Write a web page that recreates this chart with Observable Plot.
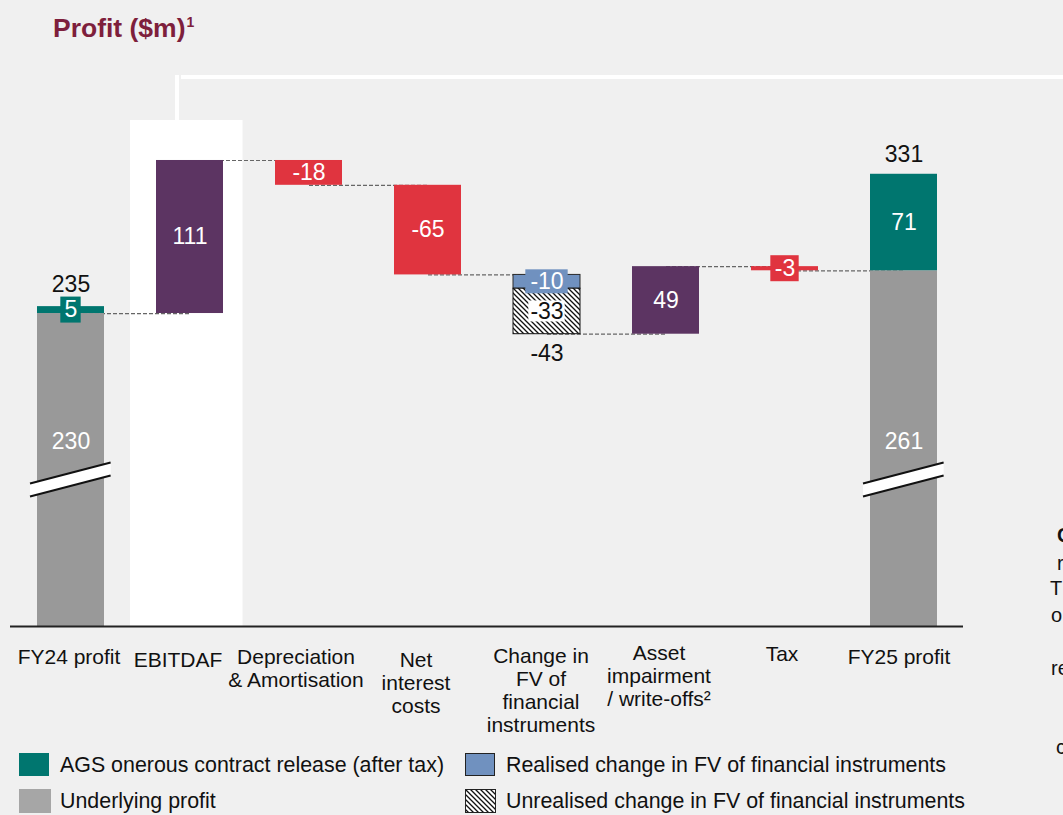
<!DOCTYPE html>
<html>
<head>
<meta charset="utf-8">
<script src="https://cdn.jsdelivr.net/npm/d3@7"></script>
<script src="https://cdn.jsdelivr.net/npm/@observablehq/plot@0.6"></script>
<style>
html, body { margin: 0; padding: 0; background: #f0f0f0; overflow: hidden; }
body { width: 1063px; height: 815px; position: relative; font-family: "Liberation Sans", Arial, sans-serif; color: #111; }
#title { position: absolute; left: 53px; top: 16px; font-size: 26.5px; line-height: 25px; font-weight: bold; color: #7e1f3c; white-space: nowrap; }
#title .sup { font-size: 14px; line-height: 14px; vertical-align: top; position: relative; top: -1px; margin-left: 1px; }
#chart { position: absolute; left: 0; top: 60px; }
#legend { position: absolute; left: 0; top: 745px; width: 1063px; height: 70px; }
.sw { position: absolute; box-sizing: border-box; }
.lt { position: absolute; font-size: 21.4px; line-height: 23px; white-space: nowrap; color: #111; }
.edge { position: absolute; font-size: 20px; line-height: 22px; color: #111; white-space: nowrap; }
</style>
</head>
<body>
<div id="title">Profit ($m)<span class="sup">1</span></div>
<div id="chart"></div>
<div id="legend"></div>
<div class="edge" style="left:1057px;top:524px;font-weight:bold;">C</div>
<div class="edge" style="left:1057px;top:552px;">r</div>
<div class="edge" style="left:1050px;top:577px;">T</div>
<div class="edge" style="left:1051px;top:604px;">o</div>
<div class="edge" style="left:1051px;top:657px;">re</div>
<div class="edge" style="left:1056px;top:736px;">c</div>
<script>
// ---------------- data ----------------
const categories = [
  "FY24 profit",
  "EBITDAF",
  "Depreciation\n& Amortisation",
  "Net\ninterest\ncosts",
  "Change in\nFV of\nfinancial\ninstruments",
  "Asset\nimpairment\n/ write-offs²",
  "Tax",
  "FY25 profit"
];
const stepValues = [111, -18, -65, -43, 49, -3];   // EBITDAF .. Tax
const underlying = [230, 261];                       // FY24, FY25 underlying profit
const agsRelease = [5, 71];                          // AGS onerous contract release
const totals = [235, 331];                           // FY24, FY25 reported profit
const fvRealised = -10;
const fvUnrealised = -33;
const legendLabels = [
  "AGS onerous contract release (after tax)",
  "Underlying profit",
  "Realised change in FV of financial instruments",
  "Unrealised change in FV of financial instruments"
];

// ---------------- style ----------------
const C = {
  teal: "#00766f", gray: "#999999", purple: "#5c3462", red: "#e0343f",
  blue: "#7091bf", hatch: "url(#hatchPat)", dash: "#666666"
};
const W = 1063, H = 685;
const mTop = 60, mBottom = 119, mLeft = 10, mRight = 100;
const padInner = 0.44, padOuter = 0.224;
const step = (W - mLeft - mRight) / (categories.length - padInner + 2 * padOuter);
const bw = step * (1 - padInner);
// per-label nudges of the category text boxes (pixels), as in the slide
const catDx = [-2, -12, -13, -12, -6, -7, -3, -5];
const catDy = [21, 24, 21, 24, 20, 17, 18, 21];

// ---------------- waterfall build ----------------
const bars = [];
const labels = [];
const boxes = [];
const links = [];

// FY24
bars.push({cat: categories[0], y1: 0, y2: underlying[0], fill: C.gray, stroke: "none"});
bars.push({cat: categories[0], y1: underlying[0], y2: totals[0], fill: C.teal, stroke: "none"});
boxes.push({cat: categories[0], mid: (underlying[0] + totals[0]) / 2, w: 20, h: 26, fill: C.teal});
labels.push({cat: categories[0], y: (underlying[0] + totals[0]) / 2, text: String(agsRelease[0]), fill: "white", dy: 0});
labels.push({cat: categories[0], y: totals[0], text: String(totals[0]), fill: "#111", dy: -22});

let level = underlying[0];
links.push({a: categories[0], b: categories[1], y: level});
stepValues.forEach((v, i) => {
  const cat = categories[i + 1];
  const start = level, end = level + v;
  if (i === 3) {
    const mid = start + fvRealised;
    bars.push({cat, y1: start, y2: mid, fill: C.blue, stroke: "#2a2a2a"});
    bars.push({cat, y1: mid, y2: end, fill: C.hatch, stroke: "#111"});
    boxes.push({cat, mid: (start + mid) / 2, w: 42, h: 24, fill: C.blue});
    boxes.push({cat, mid: (mid + end) / 2, w: 36, h: 21, fill: "white"});
    labels.push({cat, y: (start + mid) / 2, text: String(fvRealised), fill: "white", dy: 0});
    labels.push({cat, y: (mid + end) / 2, text: String(fvUnrealised), fill: "#111", dy: 0});
    labels.push({cat, y: end, text: String(v), fill: "#111", dy: 19});
  } else {
    bars.push({cat, y1: start, y2: end, fill: v > 0 ? C.purple : C.red, stroke: "none"});
    if (Math.abs(v) < 8) {
      boxes.push({cat, mid: (start + end) / 2, w: 28, h: 26, fill: C.red});
    }
    labels.push({cat, y: (start + end) / 2, text: String(v), fill: "white", dy: 0});
  }
  level = end;
  links.push({a: cat, b: categories[i + 2], y: level});
});

// FY25
bars.push({cat: categories[7], y1: 0, y2: underlying[1], fill: C.gray, stroke: "none"});
bars.push({cat: categories[7], y1: underlying[1], y2: totals[1], fill: C.teal, stroke: "none"});
labels.push({cat: categories[7], y: (underlying[1] + totals[1]) / 2, text: String(agsRelease[1]), fill: "white", dy: 0});
labels.push({cat: categories[7], y: totals[1], text: String(totals[1]), fill: "#111", dy: -20});

const underlyingLabels = [
  {cat: categories[0], text: String(underlying[0])},
  {cat: categories[7], text: String(underlying[1])}
];

// ---------------- plot ----------------
const boxMarks = boxes.map(b => Plot.barY([b], {
  x: "cat", y1: "mid", y2: "mid", fill: b.fill,
  insetLeft: (bw - b.w) / 2, insetRight: (bw - b.w) / 2,
  insetTop: -b.h / 2, insetBottom: -b.h / 2
}));

const labelMarks = Array.from(d3.group(labels, d => d.dy), ([dy, rows]) =>
  Plot.text(rows, {x: "cat", y: "y", text: "text", fill: "fill", dy, fontSize: 23, lineAnchor: "middle"})
);

const catMarks = categories.map((c, i) =>
  Plot.text([c], {x: d => d, text: d => d, frameAnchor: "bottom", lineAnchor: "top",
    dx: catDx[i], dy: catDy[i], fontSize: 21, lineHeight: 1.1, fill: "#111"})
);

const chart = Plot.plot({
  width: W, height: H,
  marginTop: mTop, marginBottom: mBottom, marginLeft: mLeft, marginRight: mRight,
  style: {background: "transparent", fontFamily: "'Liberation Sans', Arial, sans-serif", color: "#111", overflow: "visible"},
  x: {type: "band", domain: categories, paddingInner: padInner, paddingOuter: padOuter, align: 0.5, axis: null},
  y: {domain: [3, 370], clamp: true, axis: null},
  color: {type: "identity"},
  marks: [
    Plot.cell([categories[1]], {x: d => d, fill: "white", insetLeft: -26, insetRight: -19.5}),
    Plot.link(links, {x1: "a", x2: "b", y1: "y", y2: "y", stroke: C.dash, strokeWidth: 1.2, strokeDasharray: "4,2"}),
    Plot.barY(bars, {x: "cat", y1: "y1", y2: "y2", fill: "fill", stroke: "stroke", strokeWidth: 1}),
    ...boxMarks,
    ...labelMarks,
    Plot.text(underlyingLabels, {x: "cat", text: "text", frameAnchor: "bottom", dy: -185, fill: "white", fontSize: 23, lineAnchor: "middle"}),
    Plot.ruleY([3], {stroke: "#222", strokeWidth: 2}),
    ...catMarks
  ]
});

document.getElementById("chart").appendChild(chart);

const svg = d3.select(chart);
svg.insert("defs", ":first-child").html(
  `<pattern id="hatchPat" patternUnits="userSpaceOnUse" width="5" height="5">
     <rect width="5" height="5" fill="white"/>
     <path d="M-1,-1 L6,6 M-1,4 L1,6 M4,-1 L6,1" stroke="#111" stroke-width="1.3"/>
   </pattern>`
);

// decorative bracket
svg.append("rect").attr("x", 175).attr("y", 15).attr("width", 4).attr("height", mTop - 15).attr("fill", "white");
svg.append("rect").attr("x", 181).attr("y", 15).attr("width", W - 181).attr("height", 4).attr("fill", "white");

// axis break markers
const xs = chart.scale("x");
const base = H - mBottom;
[categories[0], categories[7]].forEach(cat => {
  const x0 = xs.apply(cat) - 7, x1 = xs.apply(cat) + bw + 7;
  const cl = base - 136, cr = base - 157, t = 6.5;
  const g = svg.append("g");
  g.append("polygon").attr("points", `${x0},${cl - t} ${x1},${cr - t} ${x1},${cr + t} ${x0},${cl + t}`).attr("fill", "white");
  g.append("line").attr("x1", x0).attr("y1", cl - t).attr("x2", x1).attr("y2", cr - t).attr("stroke", "#111").attr("stroke-width", 2);
  g.append("line").attr("x1", x0).attr("y1", cl + t).attr("x2", x1).attr("y2", cr + t).attr("stroke", "#111").attr("stroke-width", 2);
});

// ---------------- legend ----------------
const legend = d3.select("#legend");
const items = [
  {label: legendLabels[0], sx: 19, sy: 8, tw: 60, css: {background: C.teal, width: "30px", height: "23px"}},
  {label: legendLabels[1], sx: 19, sy: 44, tw: 60, css: {background: "#a6a6a6", width: "32px", height: "24px"}},
  {label: legendLabels[2], sx: 465, sy: 8, tw: 506, css: {background: C.blue, width: "30px", height: "23px", border: "1px solid #222"}},
  {label: legendLabels[3], sx: 465, sy: 44, tw: 506, hatch: true}
];
items.forEach(it => {
  const sw = legend.append("div").attr("class", "sw").style("left", it.sx + "px").style("top", it.sy + "px");
  if (it.hatch) {
    sw.html(`<svg width="31" height="24" style="display:block"><defs><pattern id="hatchLeg" patternUnits="userSpaceOnUse" width="5" height="5"><rect width="5" height="5" fill="white"/><path d="M-1,-1 L6,6 M-1,4 L1,6 M4,-1 L6,1" stroke="#111" stroke-width="1.3"/></pattern></defs><rect x="0.5" y="0.5" width="30" height="23" fill="url(#hatchLeg)" stroke="#222" stroke-width="1"/></svg>`);
  } else {
    Object.entries(it.css).forEach(([k, v]) => sw.style(k, v));
  }
  legend.append("div").attr("class", "lt").style("left", it.tw + "px").style("top", (it.sy + 0.5) + "px").text(it.label);
});
</script>
</body>
</html>
